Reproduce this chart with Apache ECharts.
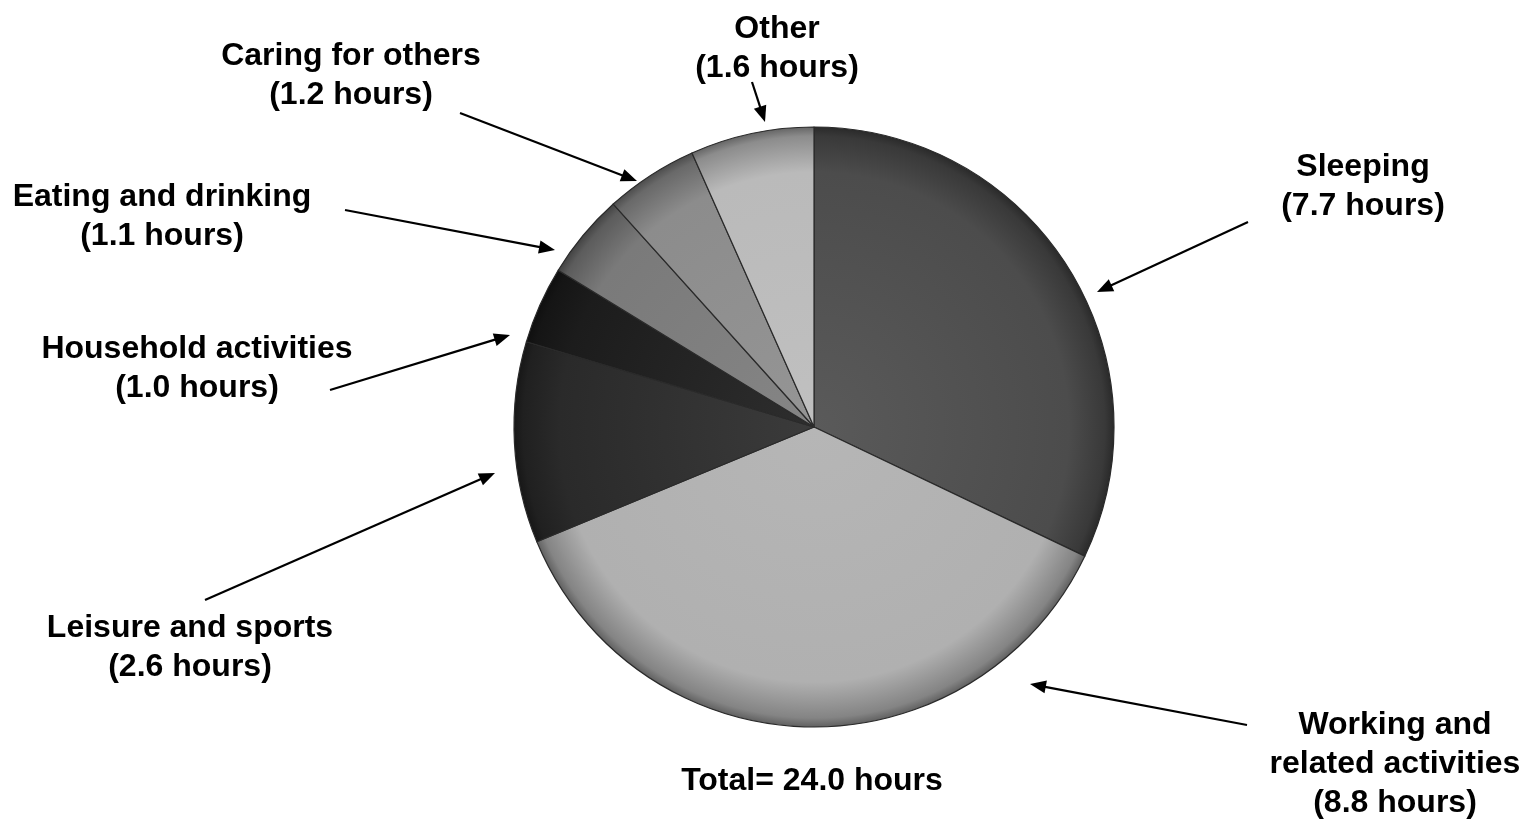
<!DOCTYPE html>
<html>
<head>
<meta charset="utf-8">
<script src="https://cdn.jsdelivr.net/npm/echarts@6/dist/echarts.min.js"></script>
<style>html,body{margin:0;padding:0;background:#fff}#c{width:1525px;height:822px}</style>
</head>
<body>
<div id="c"></div>
<script>
// ---- data ----
var categories = ['Sleeping', 'Working and\nrelated activities', 'Leisure and sports', 'Household activities', 'Eating and drinking', 'Caring for others', 'Other'];
var hours = [7.7, 8.8, 2.6, 1.0, 1.1, 1.2, 1.6];
var totalLabel = 'Total= 24.0 hours';

// ---- styling / layout (not data) ----
var sliceColors = ['#4c4c4c', '#b0b0b0', '#2a2a2a', '#1c1c1c', '#7a7a7a', '#8c8c8c', '#bababa'];
var labelPos = [[1363, 187], [1395, 764], [190, 648], [197, 369], [162, 217], [351, 76], [777, 49]];
// arrows: [tailX, tailY, tipX, tipY]
var arrows = [[1248, 222, 1097, 292], [1247, 725, 1030, 684], [205, 600, 495, 473], [330, 390, 510, 335], [345, 210, 555, 250], [460, 113, 637, 181], [752, 82, 765, 122]];
var CX = 814, CY = 427, R = 300;
var FONT = 'Liberation Sans, Arial, Helvetica, sans-serif';

function shade(hex, f) {
  var n = parseInt(hex.slice(1), 16);
  var r = (n >> 16) & 255, g = (n >> 8) & 255, b = n & 255;
  function c(v) { v = Math.round(f >= 0 ? v + (255 - v) * f : v * (1 + f)); return Math.max(0, Math.min(255, v)); }
  return 'rgb(' + c(r) + ',' + c(g) + ',' + c(b) + ')';
}

var data = categories.map(function (name, i) {
  return {
    name: name,
    value: hours[i],
    itemStyle: {
      color: {
        type: 'radial', x: CX, y: CY, r: R, global: true,
        colorStops: [
          { offset: 0, color: shade(sliceColors[i], 0.08) },
          { offset: 0.85, color: sliceColors[i] },
          { offset: 0.97, color: shade(sliceColors[i], -0.25) },
          { offset: 1, color: shade(sliceColors[i], -0.45) }
        ]
      }
    }
  };
});

var graphics = [];
arrows.forEach(function (a) {
  var dx = a[2] - a[0], dy = a[3] - a[1];
  var len = Math.sqrt(dx * dx + dy * dy);
  var ux = dx / len, uy = dy / len;
  var hl = 16, hw = 6.5;
  var bx = a[2] - ux * hl, by = a[3] - uy * hl;
  graphics.push({
    type: 'line', silent: true,
    shape: { x1: a[0], y1: a[1], x2: bx + ux * 2, y2: by + uy * 2 },
    style: { stroke: '#000', lineWidth: 2.2 }
  });
  graphics.push({
    type: 'polygon', silent: true,
    shape: { points: [[a[2], a[3]], [bx - uy * hw, by + ux * hw], [bx + uy * hw, by - ux * hw]] },
    style: { fill: '#000' }
  });
});
graphics.push({
  type: 'text', x: 812, y: 781, silent: true,
  style: { text: totalLabel, font: 'bold 32px ' + FONT, fill: '#000', align: 'center', verticalAlign: 'middle' }
});

var chart = echarts.init(document.getElementById('c'), null, { renderer: 'canvas' });
chart.setOption({
  backgroundColor: '#fff',
  animation: false,
  series: [{
    type: 'pie',
    center: [CX, CY],
    radius: R,
    startAngle: 90,
    clockwise: true,
    data: data,
    itemStyle: { borderColor: '#2a2a2a', borderWidth: 1.2 },
    emphasis: { disabled: true },
    label: {
      show: true,
      formatter: function (p) { return p.name + '\n(' + p.value.toFixed(1) + ' hours)'; },
      fontFamily: FONT, fontWeight: 'bold', fontSize: 32, lineHeight: 39, color: '#000', align: 'center'
    },
    labelLine: { show: false },
    labelLayout: function (p) {
      var pos = labelPos[p.dataIndex];
      return { x: pos[0], y: pos[1], align: 'center', verticalAlign: 'middle', hideOverlap: false };
    }
  }],
  graphic: graphics
});
</script>
</body>
</html>
